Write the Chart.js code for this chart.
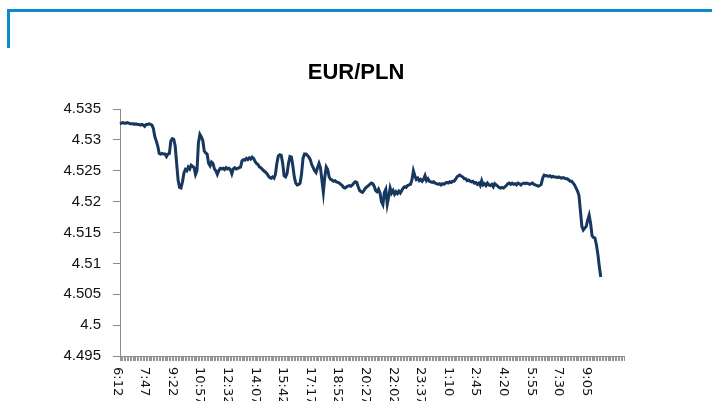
<!DOCTYPE html>
<html>
<head>
<meta charset="utf-8">
<script src="https://cdn.jsdelivr.net/npm/chart.js@4/dist/chart.umd.min.js"></script>
<style>
  html, body { margin: 0; padding: 0; background: #fff; }
  #wrap { position: relative; width: 712px; height: 401px; }
  #frame { position: absolute; left: 7px; top: 9px; right: 0; height: 36px;
           border-top: 3px solid #0B89CC; border-left: 3px solid #0B89CC; }
  canvas { position: absolute; left: 0; top: 0; }
</style>
</head>
<body>
<div id="wrap">
  <div id="frame"></div>
  <canvas id="chart" width="712" height="401"></canvas>
</div>
<script>
(function () {
	'use strict';

	// time labels shown under the axis, one every 19 slots (95 minutes)
	var tickLabels = ['6:12', '7:47', '9:22', '10:57', '12:32', '14:07', '15:42', '17:17', '18:52',
		'20:27', '22:02', '23:37', '1:10', '2:45', '4:20', '5:55', '7:30', '9:05'];
	var slotsPerLabel = 19;
	var slotCount = 348;

	var yMin = 4.495,
		yMax = 4.535,
		yStep = 0.005;

	// EUR/PLN, 5-minute samples
	var rate = [
		4.5326, 4.5327, 4.5328, 4.5327, 4.5327, 4.5328, 4.5327, 4.5326, 4.5326, 4.5326, 4.5325, 4.5326, 4.5325, 4.5325, 4.5324, 4.5325, 4.5324, 4.5322, 4.5325,
		4.5325, 4.5326, 4.5325, 4.5324, 4.5318, 4.5305, 4.5298, 4.5290, 4.5278, 4.5277, 4.5278, 4.5277, 4.5277, 4.5273, 4.5277, 4.5278, 4.5298, 4.5302, 4.5301,
		4.5290, 4.5262, 4.5235, 4.5223, 4.5222, 4.5232, 4.5246, 4.5252, 4.5250, 4.5256, 4.5253, 4.5259, 4.5257, 4.5255, 4.5244, 4.5250, 4.5295, 4.5309, 4.5305,
		4.5299, 4.5282, 4.5279, 4.5277, 4.5262, 4.5258, 4.5264, 4.5262, 4.5253, 4.5250, 4.5244, 4.5250, 4.5254, 4.5253, 4.5254, 4.5252, 4.5255, 4.5253, 4.5254,
		4.5252, 4.5245, 4.5253, 4.5255, 4.5253, 4.5254, 4.5255, 4.5256, 4.5266, 4.5268, 4.5267, 4.5270, 4.5268, 4.5271, 4.5269, 4.5272, 4.5270, 4.5265, 4.5262,
		4.5260, 4.5256, 4.5255, 4.5252, 4.5250, 4.5248, 4.5246, 4.5242, 4.5239, 4.5238, 4.5240, 4.5238, 4.5244, 4.5262, 4.5274, 4.5276, 4.5275, 4.5262, 4.5242,
		4.5240, 4.5245, 4.5262, 4.5273, 4.5272, 4.5258, 4.5240, 4.5230, 4.5227, 4.5228, 4.5230, 4.5245, 4.5270, 4.5277, 4.5277, 4.5275, 4.5272, 4.5268, 4.5260,
		4.5255, 4.5250, 4.5247, 4.5255, 4.5262, 4.5255, 4.5235, 4.5215, 4.5240, 4.5256, 4.5252, 4.5240, 4.5236, 4.5235, 4.5233, 4.5234, 4.5232, 4.5231, 4.5230,
		4.5228, 4.5226, 4.5223, 4.5222, 4.5224, 4.5225, 4.5226, 4.5225, 4.5227, 4.5230, 4.5232, 4.5231, 4.5224, 4.5218, 4.5216, 4.5215, 4.5218, 4.5222, 4.5224,
		4.5226, 4.5228, 4.5230, 4.5229, 4.5225, 4.5218, 4.5216, 4.5220, 4.5214, 4.5200, 4.5195, 4.5215, 4.5220, 4.5196, 4.5208, 4.5222, 4.5214, 4.5218, 4.5212,
		4.5216, 4.5213, 4.5217, 4.5214, 4.5218, 4.5222, 4.5224, 4.5223, 4.5226, 4.5227, 4.5228, 4.5235, 4.5250, 4.5242, 4.5236, 4.5238, 4.5234, 4.5236, 4.5233,
		4.5236, 4.5242, 4.5234, 4.5237, 4.5233, 4.5232, 4.5231, 4.5232, 4.5230, 4.5229, 4.5228, 4.5229, 4.5227, 4.5229, 4.5228, 4.5230, 4.5231, 4.5230, 4.5232,
		4.5231, 4.5233, 4.5233, 4.5236, 4.5240, 4.5242, 4.5243, 4.5241, 4.5240, 4.5237, 4.5237, 4.5234, 4.5235, 4.5233, 4.5232, 4.5233, 4.5230, 4.5231, 4.5228,
		4.5230, 4.5226, 4.5234, 4.5227, 4.5229, 4.5226, 4.5230, 4.5227, 4.5226, 4.5228, 4.5224, 4.5229, 4.5227, 4.5225, 4.5223, 4.5222, 4.5223, 4.5222, 4.5224,
		4.5226, 4.5229, 4.5230, 4.5228, 4.5230, 4.5228, 4.5229, 4.5227, 4.5230, 4.5229, 4.5227, 4.5229, 4.5230, 4.5229, 4.5230, 4.5229, 4.5228, 4.5229, 4.5230,
		4.5228, 4.5227, 4.5226, 4.5225, 4.5226, 4.5228, 4.5238, 4.5243, 4.5242, 4.5242, 4.5241, 4.5242, 4.5240, 4.5241, 4.5240, 4.5240, 4.5239, 4.5240, 4.5239,
		4.5238, 4.5239, 4.5238, 4.5237, 4.5237, 4.5235, 4.5233, 4.5233, 4.5230, 4.5227, 4.5222, 4.5217, 4.5210, 4.5185, 4.5160, 4.5154, 4.5157, 4.5160, 4.5170,
		4.5178, 4.5165, 4.5145, 4.5142, 4.5141, 4.5130, 4.5115, 4.5095, 4.5078
	];

	var labels = [];
	for (var i = 0; i < slotCount; i++) {
		labels.push(i % slotsPerLabel === 0 ? (tickLabels[i / slotsPerLabel] || '') : '');
	}

	// x labels run top-to-bottom (turned clockwise), which the scale cannot do itself
	var verticalLabels = {
		id: 'verticalLabels',
		afterDraw: function (chart) {
			var xs = chart.scales.x,
				ctx = chart.ctx;
			ctx.save();
			ctx.font = '13px "DejaVu Sans"';
			ctx.fillStyle = '#111';
			ctx.textAlign = 'left';
			ctx.textBaseline = 'middle';
			labels.forEach(function (lab, idx) {
				if (!lab) return;
				ctx.save();
				ctx.translate(xs.getPixelForValue(idx) - 3, xs.top + 11);
				ctx.rotate(Math.PI / 2);
				ctx.fillText(lab, 0, 0);
				ctx.restore();
			});
			ctx.restore();
		}
	};

	new Chart(document.getElementById('chart'), {
		type: 'line',
		data: {
			labels: labels,
			datasets: [{
				label: 'EUR/PLN',
				data: rate,
				borderColor: '#17375E',
				borderWidth: 3,
				pointRadius: 0,
				tension: 0,
				fill: false
			}]
		},
		options: {
			responsive: false,
			animation: false,
			layout: { padding: { top: 60, left: 0, right: 0, bottom: 0 } },
			plugins: {
				legend: { display: false },
				tooltip: { enabled: false },
				title: {
					display: true,
					text: 'EUR/PLN',
					color: '#000',
					font: { family: '"Liberation Sans", Arial', size: 22, weight: 'bold', lineHeight: 1.2 },
					padding: { top: 0, bottom: 22.6 }
				}
			},
			scales: {
				x: {
					type: 'category',
					offset: false,
					ticks: { display: false, autoSkip: false },
					grid: { drawOnChartArea: false, drawTicks: true, tickLength: 5, color: '#969696', lineWidth: 1 },
					border: { display: true, color: '#8c8c8c', width: 1 },
					afterFit: function (s) { s.height = 45; }
				},
				y: {
					min: yMin,
					max: yMax,
					ticks: {
						stepSize: yStep,
						color: '#111',
						padding: 12,
						font: { family: '"Liberation Sans", Arial', size: 15 },
						callback: function (v) { return String(Number(v.toFixed(3))); }
					},
					grid: { drawOnChartArea: false, drawTicks: true, tickLength: 7, color: '#8c8c8c' },
					border: { display: true, color: '#8c8c8c', width: 1 },
					afterFit: function (s) { s.width = 120; }
				},
				yRight: {
					position: 'right',
					display: true,
					ticks: { display: false },
					grid: { display: false },
					border: { display: false },
					afterFit: function (s) { s.width = 88; }
				}
			}
		},
		plugins: [verticalLabels]
	});
})();
</script>
</body>
</html>
